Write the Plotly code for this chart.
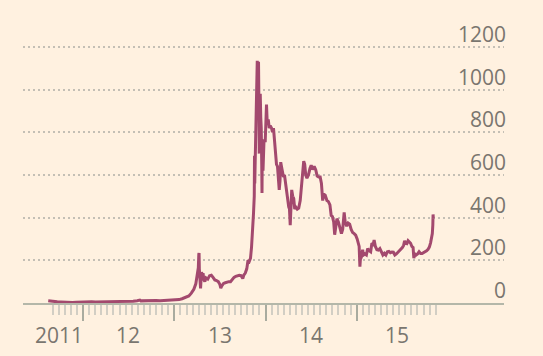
import plotly.graph_objects as go
import pandas as pd

# ---- data ----
dates = [
    "2011-08-15", "2011-08-25", "2011-09-05", "2011-09-20", "2011-10-05", "2011-10-20",
    "2011-11-05", "2011-11-20", "2011-12-05", "2011-12-20",
    "2012-01-05", "2012-01-20", "2012-02-05", "2012-02-20", "2012-03-05", "2012-03-20",
    "2012-04-05", "2012-04-20", "2012-05-05", "2012-05-20", "2012-06-05", "2012-06-20",
    "2012-07-05", "2012-07-20", "2012-08-05", "2012-08-16", "2012-08-20", "2012-09-05",
    "2012-09-20", "2012-10-05", "2012-10-20", "2012-11-05", "2012-11-20", "2012-12-05",
    "2012-12-20",
    "2013-01-05", "2013-01-20", "2013-02-01", "2013-02-15", "2013-02-28", "2013-03-10",
    "2013-03-20", "2013-03-28", "2013-04-03", "2013-04-07", "2013-04-09", "2013-04-10",
    "2013-04-11", "2013-04-12", "2013-04-14", "2013-04-16", "2013-04-18", "2013-04-20",
    "2013-04-23", "2013-04-26", "2013-04-29", "2013-05-03", "2013-05-08", "2013-05-15",
    "2013-05-22", "2013-05-29", "2013-06-05", "2013-06-12", "2013-06-19", "2013-06-26",
    "2013-07-02", "2013-07-06", "2013-07-10", "2013-07-17", "2013-07-24", "2013-07-31",
    "2013-08-07", "2013-08-14", "2013-08-21", "2013-08-28", "2013-09-04", "2013-09-11",
    "2013-09-18", "2013-09-25", "2013-10-02", "2013-10-06", "2013-10-12", "2013-10-18",
    "2013-10-23", "2013-10-28", "2013-11-02", "2013-11-06", "2013-11-10", "2013-11-14",
    "2013-11-17", "2013-11-18", "2013-11-19", "2013-11-21", "2013-11-24", "2013-11-27",
    "2013-11-29", "2013-12-01", "2013-12-04", "2013-12-06", "2013-12-07", "2013-12-09",
    "2013-12-11", "2013-12-13", "2013-12-15", "2013-12-17", "2013-12-18", "2013-12-19",
    "2013-12-22", "2013-12-26", "2013-12-31",
    "2014-01-05", "2014-01-08", "2014-01-12", "2014-01-16", "2014-01-20", "2014-01-25",
    "2014-01-29", "2014-02-02", "2014-02-06", "2014-02-10", "2014-02-14", "2014-02-18",
    "2014-02-21", "2014-02-25", "2014-02-28", "2014-03-03", "2014-03-06", "2014-03-10",
    "2014-03-14", "2014-03-18", "2014-03-22", "2014-03-27", "2014-04-01", "2014-04-04",
    "2014-04-07", "2014-04-10", "2014-04-12", "2014-04-16", "2014-04-20", "2014-04-24",
    "2014-04-28", "2014-05-02", "2014-05-08", "2014-05-14", "2014-05-20", "2014-05-25",
    "2014-05-30", "2014-06-03", "2014-06-07", "2014-06-11", "2014-06-16", "2014-06-22",
    "2014-06-28", "2014-07-03", "2014-07-09", "2014-07-15", "2014-07-21", "2014-07-27",
    "2014-08-02", "2014-08-08", "2014-08-13", "2014-08-18", "2014-08-22", "2014-08-28",
    "2014-09-04", "2014-09-10", "2014-09-16", "2014-09-21", "2014-09-26", "2014-10-01",
    "2014-10-05", "2014-10-09", "2014-10-14", "2014-10-20", "2014-10-26", "2014-11-01",
    "2014-11-06", "2014-11-12", "2014-11-16", "2014-11-22", "2014-11-28", "2014-12-04",
    "2014-12-10", "2014-12-16", "2014-12-22", "2014-12-28",
    "2015-01-03", "2015-01-07", "2015-01-11", "2015-01-14", "2015-01-16", "2015-01-20",
    "2015-01-25", "2015-01-28", "2015-02-03", "2015-02-09", "2015-02-14", "2015-02-20",
    "2015-02-26", "2015-03-03", "2015-03-08", "2015-03-12", "2015-03-17", "2015-03-23",
    "2015-03-29", "2015-04-04", "2015-04-10", "2015-04-16", "2015-04-22", "2015-04-28",
    "2015-05-04", "2015-05-10", "2015-05-16", "2015-05-22", "2015-05-28", "2015-06-03",
    "2015-06-09", "2015-06-15", "2015-06-21", "2015-06-27", "2015-07-03", "2015-07-08",
    "2015-07-12", "2015-07-16", "2015-07-21", "2015-07-26", "2015-07-31", "2015-08-05",
    "2015-08-10", "2015-08-15", "2015-08-18", "2015-08-22", "2015-08-27", "2015-09-02",
    "2015-09-08", "2015-09-14", "2015-09-20", "2015-09-26", "2015-10-02", "2015-10-08",
    "2015-10-14", "2015-10-19", "2015-10-24", "2015-10-28", "2015-10-31", "2015-11-02",
    "2015-11-03", "2015-11-04",
]
prices = [
    11, 9, 8, 5.5, 4.8, 3,
    3, 2.3, 3, 4,
    7, 6.4, 5.8, 4.8, 5, 4.8,
    4.9, 5.2, 5.1, 5.1, 5.3, 6.5,
    6.7, 8.7, 10.9, 13.5, 10, 11,
    12.3, 12.5, 11.7, 10.8, 11.7, 13.3,
    13.5,
    13.5, 16, 20, 27, 33, 46,
    64, 90, 130, 165, 230, 234,
    160, 120, 95, 68, 110, 145,
    125, 140, 110, 100, 118, 112,
    128, 130, 120, 108, 105, 100,
    88, 70, 80, 92, 95, 98,
    100, 100, 112, 120, 125, 128,
    130, 128, 115, 130, 140, 160,
    200, 195, 210, 260, 320, 420,
    500, 690, 560, 680, 820, 1010,
    1135, 1070, 1130, 900, 700, 920,
    980, 870, 820, 640, 515, 700,
    620, 760, 760,
    930, 840, 860, 820, 830, 820,
    800, 820, 760, 690, 650, 640,
    590, 530, 570, 660, 640, 620,
    590, 600, 560, 510, 480, 450,
    440, 365, 420, 530, 500, 490,
    440, 450, 440, 445, 480, 560,
    620, 665, 650, 600, 585, 600,
    630, 645, 625, 640, 625, 595,
    590, 590, 560, 480, 510, 505,
    480, 475, 460, 410, 405, 380,
    320, 360, 395, 380, 355, 325,
    345, 425, 380, 360, 375, 370,
    345, 330, 325, 318,
    300, 285, 265, 170, 205, 215,
    250, 225, 230, 225, 255, 245,
    240, 280, 275, 295, 265, 250,
    248, 255, 235, 225, 233, 225,
    240, 242, 236, 239, 238, 225,
    230, 237, 245, 250, 260, 270,
    292, 280, 278, 292, 285, 280,
    265, 260, 210, 230, 225, 230,
    240, 232, 232, 236, 238, 245,
    252, 262, 282, 305, 325, 365,
    415, 395,
]

y_ticks = [0, 200, 400, 600, 800, 1000, 1200]
y_tick_text = ["0", "200", "400", "600", "800", "1000", "1200"]
year_ticks = ["2012-01-01", "2013-01-01", "2014-01-01", "2015-01-01"]
x_label_text = ["2011", "12", "13", "14", "15"]
x_label_pos = ["2011-09-26", "2012-07-01", "2013-07-01", "2014-07-01", "2015-06-12"]

# small ticks: 15 per year, aligned to 1 January
minor_ticks = []
for yr in range(2011, 2016):
    start = pd.Timestamp(f"{yr}-01-01")
    length = pd.Timestamp(f"{yr + 1}-01-01") - start
    for k in range(15):
        t = start + length * k / 15
        if pd.Timestamp("2011-08-25") <= t <= pd.Timestamp("2015-11-15"):
            minor_ticks.append(t.strftime("%Y-%m-%d %H:%M"))

BG = "#fff1e0"
LINE = "#a3496e"
TXT = "#7a766f"
FONT = "Open Sans"

fig = go.Figure()
fig.add_trace(go.Scatter(
    x=pd.to_datetime(dates), y=prices, mode="lines",
    line=dict(color=LINE, width=3), hoverinfo="skip", showlegend=False,
))

for txt, pos in zip(x_label_text, x_label_pos):
    fig.add_annotation(
        x=pos, xref="x", y=0, yref="paper", yanchor="middle", xanchor="center",
        yshift=-32, text=txt, showarrow=False,
        font=dict(family=FONT, size=21, color=TXT),
    )

for txt, val in zip(y_tick_text, y_ticks):
    fig.add_annotation(
        x=1, xref="paper", y=val, yref="y", yanchor="middle", xanchor="right",
        yshift=13, xshift=3, text=txt, showarrow=False, borderpad=0,
        font=dict(family=FONT, size=21, color=TXT),
    )

fig.update_layout(
    width=543, height=356,
    margin=dict(l=23, r=39, t=26, b=53),
    paper_bgcolor=BG, plot_bgcolor=BG,
    xaxis=dict(
        type="date",
        range=["2011-05-06", "2016-08-13"],
        showgrid=False, zeroline=False,
        showline=True, linecolor="#b4b7a9", linewidth=2,
        tickmode="array", tickvals=year_ticks,
        ticks="outside", ticklen=16, tickwidth=1.5, tickcolor="#a9ab9f",
        showticklabels=False,
        minor=dict(tickmode="array", tickvals=minor_ticks, ticks="outside",
                   ticklen=10, tickwidth=1.5, tickcolor="#d2cec4", showgrid=False),
        fixedrange=True,
    ),
    yaxis=dict(
        range=[0, 1298], side="right",
        tickmode="array", tickvals=y_ticks,
        showticklabels=False, ticks="",
        showgrid=True, gridcolor="#c4bfb5", gridwidth=1.8, griddash="2px,3px",
        zeroline=False, showline=False,
        fixedrange=True,
    ),
)

fig.write_html("out.html", config={"displayModeBar": False},
               post_script="document.body.style.margin='0px';")
